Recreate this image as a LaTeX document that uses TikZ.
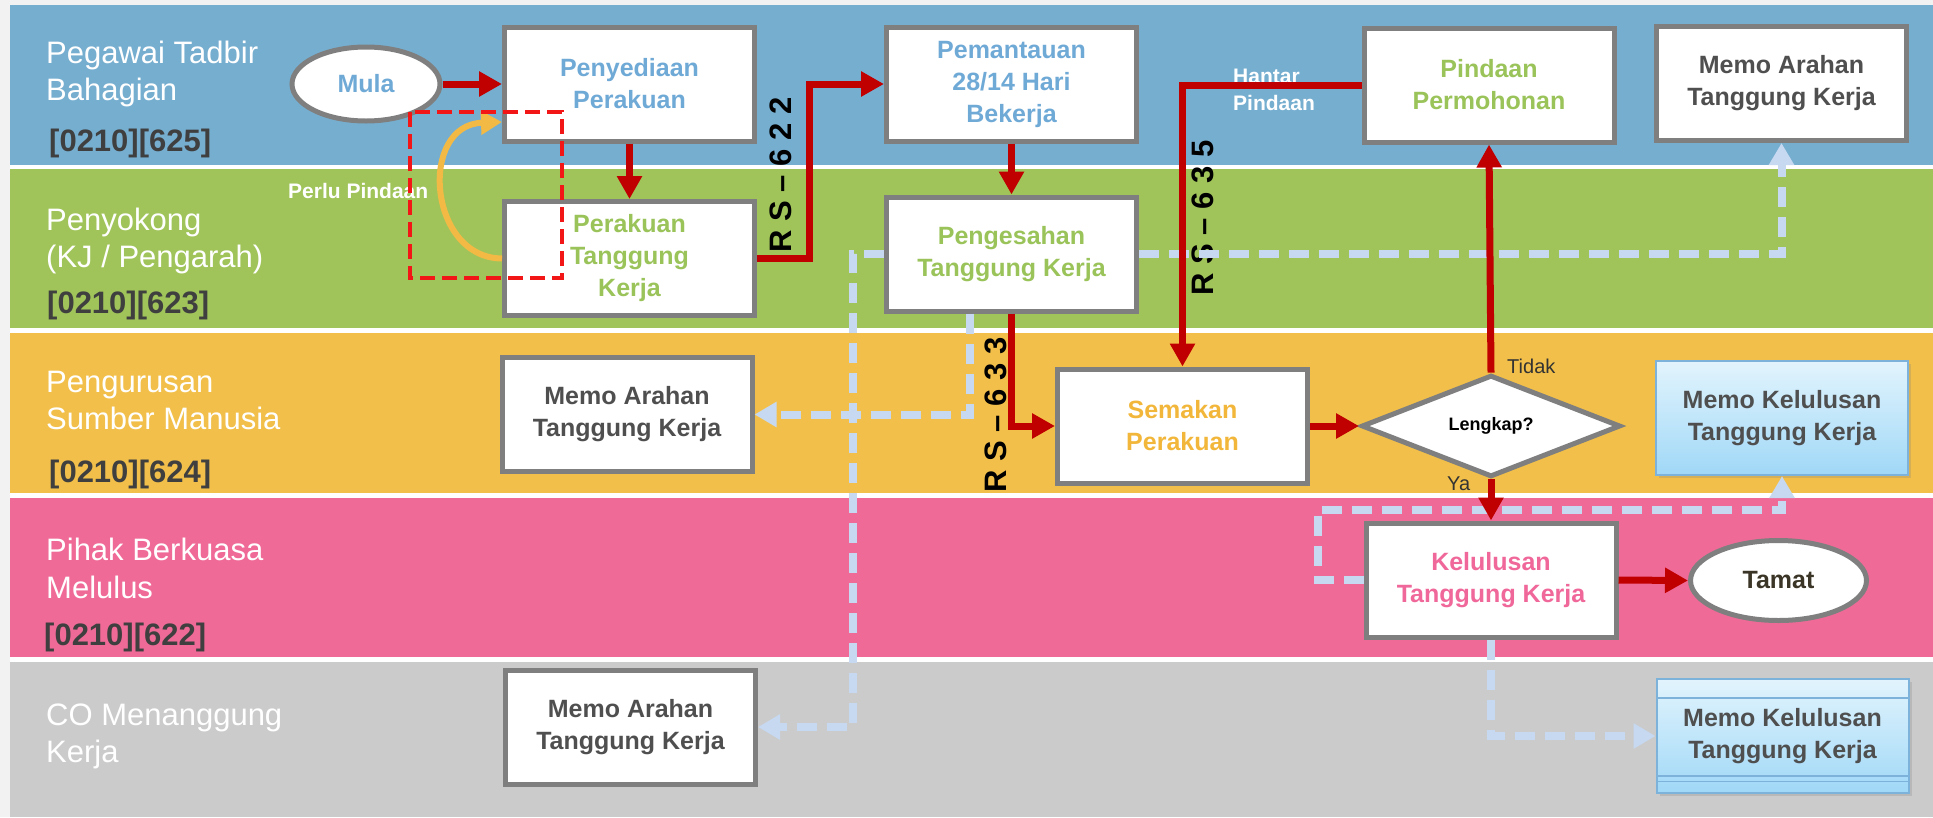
\documentclass[tikz,border=0pt]{standalone}
\usepackage{fontspec}
\setmainfont{Liberation Sans}
\usetikzlibrary{arrows.meta,shapes.geometric,shadows,calc}
\definecolor{bgc}{HTML}{F2F2F2}
\definecolor{laneblue}{HTML}{76AED0}
\definecolor{lanegreen}{HTML}{A0C45A}
\definecolor{laneorange}{HTML}{F2C04A}
\definecolor{lanepink}{HTML}{F06A98}
\definecolor{lanegray}{HTML}{CBCBCB}
\definecolor{boxgray}{HTML}{7F7F7F}
\definecolor{txtblue}{HTML}{6FA9D6}
\definecolor{txtgreen}{HTML}{9AC35A}
\definecolor{txtorange}{HTML}{F2B73A}
\definecolor{txtpink}{HTML}{F0679A}
\definecolor{txtmemo}{HTML}{4F4F4F}
\definecolor{txtcode}{HTML}{3F3F3F}
\definecolor{txttamat}{HTML}{3A3526}
\definecolor{txtdark}{HTML}{333333}
\definecolor{redc}{HTML}{C00000}
\definecolor{dashred}{HTML}{F21616}
\definecolor{yellowc}{HTML}{F2BA45}
\definecolor{dashblue}{HTML}{C6D9F1}
\definecolor{memotop}{HTML}{E2F4FD}
\definecolor{memobot}{HTML}{A0D8F7}
\definecolor{memoborder}{HTML}{7DB3DA}
\newcommand\myfs[2]{\fontsize{#1}{#2}\selectfont}
\begin{document}
\begin{tikzpicture}[x=1pt,y=-1pt,
  lanelbl/.style={anchor=base west, inner sep=0pt, text=white, font=\myfs{31}{37}},
  codelbl/.style={anchor=base west, inner sep=0pt, text=txtcode, font=\myfs{31}{37}\bfseries},
  procbox/.style={rectangle, draw=boxgray, line width=5pt, fill=white, minimum width=250pt, minimum height=114pt, inner sep=0pt, align=center, font=\myfs{25}{32}\bfseries},
  termnode/.style={ellipse, draw=boxgray, line width=5pt, fill=white, inner sep=0pt, font=\myfs{25}{30}\bfseries},
  memobox/.style={rectangle, draw=memoborder, line width=2pt, top color=memotop, bottom color=memobot, drop shadow={opacity=0.25, shadow xshift=3pt, shadow yshift=-3pt}, minimum width=252pt, minimum height=114pt, inner sep=0pt, align=center, text=txtmemo, font=\myfs{25}{32}\bfseries},
  rslbl/.style={rotate=90, inner sep=0pt, text=black, font=\myfs{31}{37}\bfseries},
  smalllbl/.style={anchor=base west, inner sep=0pt, text=white, font=\myfs{21}{26}\bfseries},
  yalbl/.style={anchor=base west, inner sep=0pt, text=txtdark, font=\myfs{20}{24}},
  redarrow/.style={draw=redc, line width=7pt, -{Triangle[length=23pt,width=24pt]}},
  bluedash/.style={draw=dashblue, line width=8pt, dash pattern=on 20pt off 10pt, -{Triangle[length=22pt,width=24pt]}},
]
\useasboundingbox (0,0) rectangle (1933,817);
% lanes
\fill[bgc] (0,0) rectangle (1933,817);
\fill[white] (10,5) rectangle (1933,817);
\fill[laneblue] (10,5) rectangle (1933,165);
\fill[lanegreen] (10,169) rectangle (1933,328);
\fill[laneorange] (10,333) rectangle (1933,493);
\fill[lanepink] (10,498) rectangle (1933,657);
\fill[lanegray] (10,662) rectangle (1933,817);
% lane labels
\node[lanelbl] (l1a) at (46,63) {Pegawai Tadbir};
\node[lanelbl] (l1b) at (46,100) {Bahagian};
\node[codelbl] (c1) at (49,151) {[0210][625]};
\node[lanelbl] (l2a) at (46,230) {Penyokong};
\node[lanelbl] (l2b) at (46,267) {(KJ / Pengarah)};
\node[codelbl] (c2) at (47,313) {[0210][623]};
\node[lanelbl] (l3a) at (46,392) {Pengurusan};
\node[lanelbl] (l3b) at (46,429) {Sumber Manusia};
\node[codelbl] (c3) at (49,482) {[0210][624]};
\node[lanelbl] (l4a) at (46,560) {Pihak Berkuasa};
\node[lanelbl] (l4b) at (46,598) {Melulus};
\node[codelbl] (c4) at (44,645) {[0210][622]};
\node[lanelbl] (l5a) at (46,725) {CO Menanggung};
\node[lanelbl] (l5b) at (46,762) {Kerja};
% small labels
\node[smalllbl] (perlu) at (288,198) {Perlu Pindaan};
\node[smalllbl] (hantar1) at (1233,83) {Hantar};
\node[smalllbl] (hantar2) at (1233,110) {Pindaan};
\node[yalbl] (tidak) at (1507,373) {Tidak};
\node[yalbl] (ya) at (1447,490) {Ya};
\node[rslbl] (rs1) at (781,175) {R S – 6 2 2};
\node[rslbl] (rs2) at (1203,218) {R S – 6 3 5};
\node[rslbl] (rs3) at (996,415) {R S – 6 3 3};
% nodes
\node[termnode, minimum width=148pt, minimum height=74pt, text=txtblue] (mula) at (366,84) {Mula};
\node[procbox, text=txtblue] (pen) at (629.5,84) {Penyediaan\\Perakuan};
\node[procbox, text=txtgreen] (perk) at (629.5,258.5) {Perakuan\\Tanggung\\Kerja};
\node[procbox, text=txtblue] (pem) at (1011.5,84) {Pemantauan\\28/14 Hari\\Bekerja};
\node[procbox, text=txtgreen] (peng) at (1011.5,254) {Pengesahan\\Tanggung Kerja};
\node[procbox, text=txtgreen] (pind) at (1489,85) {Pindaan\\Permohonan};
\node[procbox, text=txtmemo] (memoA) at (1781.5,83.5) {Memo Arahan\\Tanggung Kerja};
\node[procbox, text=txtmemo] (memoB) at (627,414.5) {Memo Arahan\\Tanggung Kerja};
\node[procbox, text=txtorange] (sem) at (1182.5,426) {Semakan\\Perakuan};
\node[diamond, draw=boxgray, line width=5pt, fill=white, minimum width=259pt, minimum height=94pt, inner sep=0pt, text=black, font=\myfs{18}{22}\bfseries] (lk) at (1491,426) {Lengkap?};
\node[procbox, text=txtpink] (kel) at (1491,580) {Kelulusan\\Tanggung Kerja};
\node[termnode, minimum width=176pt, minimum height=80pt, text=txttamat] (tamat) at (1778.5,580.5) {Tamat};
\node[memobox] (mkA) at (1782,418) {Memo Kelulusan\\Tanggung Kerja};
\node[memobox] (mkB) at (1782.5,736) {Memo Kelulusan\\Tanggung Kerja};
\draw[memoborder, line width=2pt] ($(mkB.north west)+(1,20)$) -- ($(mkB.north east)+(-1,20)$);
\draw[memoborder, line width=2pt] ($(mkB.south west)+(1,-18)$) -- ($(mkB.south east)+(-1,-18)$);
\draw[memoborder, line width=1pt] ($(mkB.south west)+(1,-13)$) -- ($(mkB.south east)+(-1,-13)$);
\node[procbox, text=txtmemo] (memoC) at (630.5,727) {Memo Arahan\\Tanggung Kerja};
% blue dashed connectors
\draw[bluedash] (peng.west) -- ++(-31,0) |- (memoC.east);
\draw[bluedash] ([xshift=-41.5pt]peng.south) |- (memoB.east);
\draw[bluedash] (peng.east) -| (memoA.south);
\draw[bluedash] (kel.west) -- ++(-46,0) -- ++(0,-70) -| (mkA.south);
\draw[bluedash] (kel.south) |- (mkB.west);
% red connectors
\draw[redarrow] (mula.east) -- (pen.west);
\draw[redarrow] (pen.south) -- (perk.north);
\draw[redarrow] (perk.east) -- ++(52,0) |- (pem.west);
\draw[redarrow] (pem.south) -- (peng.north);
\draw[redarrow] (peng.south) |- (sem.west);
\draw[redarrow] (pind.west) -| (sem.north);
\draw[redarrow] (sem.east) -- (lk.west);
\draw[redarrow] (lk.north) -- (pind.south);
\draw[redarrow] (lk.south) -- (kel.north);
\draw[redarrow] (kel.east) -- (tamat.west);
% yellow loop arrow
\draw[yellowc, line width=6pt, -{Triangle[length=21pt,width=23pt]}] (perk.west) .. controls (428,258) and (418,125) .. ($(pen.west)+(0,38)$);
% red dashed frame
\draw[dashred, line width=4pt, dash pattern=on 15pt off 7pt] (410,112) rectangle (562,278);
\end{tikzpicture}
\end{document}
